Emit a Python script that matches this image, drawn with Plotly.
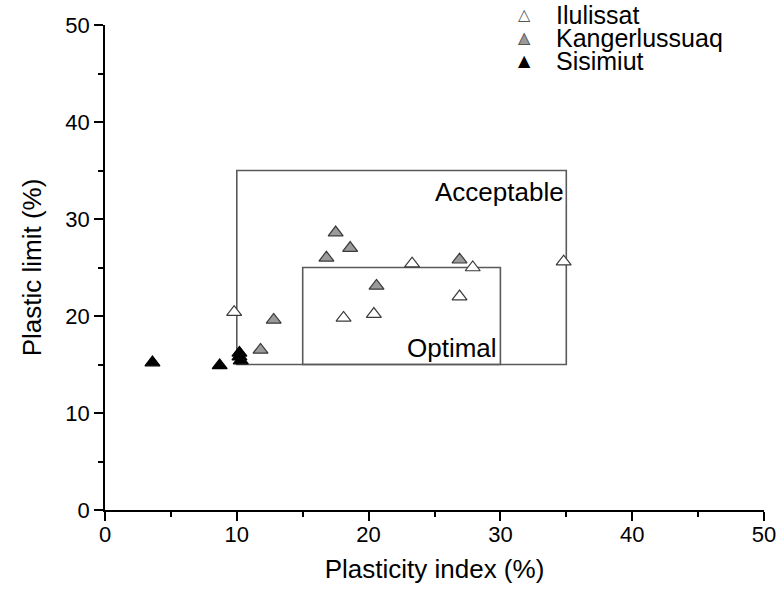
import plotly.graph_objects as go

# ---- data ----
ilulissat_pi = [9.8, 18.1, 20.4, 23.3, 26.9, 27.9, 34.8]
ilulissat_pl = [20.4, 19.8, 20.2, 25.4, 22.0, 25.0, 25.6]

kanger_pi = [17.5, 18.6, 16.8, 20.6, 26.9, 12.8, 11.8]
kanger_pl = [28.6, 27.0, 26.0, 23.1, 25.8, 19.6, 16.5]

sisimiut_pi = [3.6, 8.7, 10.2, 10.2, 10.3]
sisimiut_pl = [15.2, 14.9, 16.2, 15.8, 15.4]

acceptable_pi = [10, 35]
acceptable_pl = [15, 35]
optimal_pi = [15, 30]
optimal_pl = [15, 25]

series_names = ["Ilulissat", "Kangerlussuaq", "Sisimiut"]
series_fill = ["white", "#9a9a9a", "black"]

x_ticks = [0, 10, 20, 30, 40, 50]
y_ticks = [0, 10, 20, 30, 40, 50]

FONT = "Arial, Liberation Sans, sans-serif"
SYMFONT = "DejaVu Sans"
OUTLINE = "#3a3a3a"

fig = go.Figure()

series = [(ilulissat_pi, ilulissat_pl), (kanger_pi, kanger_pl), (sisimiut_pi, sisimiut_pl)]
for (xs, ys), name, fill in zip(series, series_names, series_fill):
    fig.add_trace(go.Scatter(
        x=xs, y=ys, mode="markers", name=name, showlegend=False,
        marker=dict(symbol="triangle-up", size=13, color=fill,
                    line=dict(color="black" if fill == "black" else OUTLINE, width=1.2))))

box_line = dict(color="#5a5a5a", width=1.6)
fig.add_shape(type="rect", xref="x", yref="y",
              x0=acceptable_pi[0], x1=acceptable_pi[1],
              y0=acceptable_pl[0], y1=acceptable_pl[1],
              line=box_line, fillcolor="rgba(0,0,0,0)", layer="below")
fig.add_shape(type="rect", xref="x", yref="y",
              x0=optimal_pi[0], x1=optimal_pi[1],
              y0=optimal_pl[0], y1=optimal_pl[1],
              line=box_line, fillcolor="rgba(0,0,0,0)", layer="below")

fig.add_annotation(x=acceptable_pi[1] - 0.05, y=acceptable_pl[1] - 2.2,
                   text="Acceptable", showarrow=False, xanchor="right",
                   yanchor="middle", font=dict(size=26, color="black", family=FONT))
fig.add_annotation(x=optimal_pi[1] - 0.1, y=optimal_pl[0] + 1.7,
                   text="Optimal", showarrow=False, xanchor="right",
                   yanchor="middle", font=dict(size=26, color="black", family=FONT))

# ---- legend (compact, Origin-like spacing) ----
leg_top = 1.021
leg_step = 0.0475
leg_sym_x = 0.637
leg_txt_x = 0.682
for i, (name, fill) in enumerate(zip(series_names, series_fill)):
    yy = leg_top - i * leg_step
    if fill != "white":
        fig.add_annotation(xref="paper", yref="paper", x=leg_sym_x, y=yy,
                           text="\u25B2", showarrow=False, xanchor="center", yanchor="middle",
                           font=dict(size=16, color=fill, family=SYMFONT))
    if fill != "black":
        fig.add_annotation(xref="paper", yref="paper", x=leg_sym_x, y=yy,
                           text="\u25B3", showarrow=False, xanchor="center", yanchor="middle",
                           font=dict(size=16, color="#555555", family=SYMFONT))
    fig.add_annotation(xref="paper", yref="paper", x=leg_txt_x, y=yy,
                       text=name, showarrow=False, xanchor="left", yanchor="middle",
                       font=dict(size=25, color="black", family=FONT))

axis_common = dict(
    range=[0, 50], showgrid=False, zeroline=False, showline=True,
    linecolor="black", linewidth=1.5, ticks="outside", ticklen=9,
    tickwidth=1.5, tickcolor="black",
    tickfont=dict(size=22, color="black", family=FONT),
    minor=dict(ticks="outside", ticklen=5, tickwidth=1.5, tickcolor="black", dtick=5),
)

fig.update_xaxes(**axis_common, tickvals=x_ticks, ticklabelstandoff=-5,
                 title=dict(text="Plasticity index (%)", standoff=14,
                            font=dict(size=26, color="black", family=FONT)))
fig.update_yaxes(**axis_common, tickvals=y_ticks,
                 title=dict(text="Plastic limit (%)", standoff=16,
                            font=dict(size=26, color="black", family=FONT)))

fig.update_layout(
    width=778, height=590,
    margin=dict(l=105, r=14, t=25, b=80, autoexpand=False),
    paper_bgcolor="white", plot_bgcolor="white",
    font=dict(family=FONT, color="black"),
    showlegend=False,
)

fig.write_html("out.html", config={"displayModeBar": False},
               post_script="document.body.style.margin='0';")
